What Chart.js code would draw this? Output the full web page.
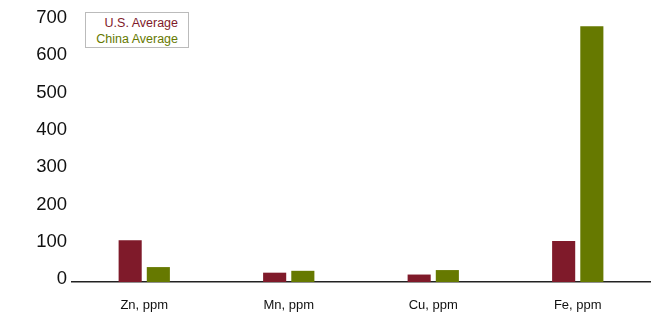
<!DOCTYPE html>
<html>
<head>
<meta charset="utf-8">
<script src="https://cdn.jsdelivr.net/npm/chart.js@4/dist/chart.umd.min.js"></script>
<style>
  html, body { margin: 0; padding: 0; background: #fff; }
  #wrap { position: relative; width: 657px; height: 313px; }
  #legendBox {
    position: absolute; left: 85px; top: 12px; width: 92px; height: 32px;
    border: 1px solid #bbb; background: #fff;
    font-family: 'Liberation Sans', Arial, sans-serif; font-size: 12.5px;
    line-height: 16px; text-align: right; padding: 2px 10px 0 0; box-sizing: content-box;
  }
  #legendBox div { white-space: nowrap; }
</style>
</head>
<body>
<div id="wrap">
  <canvas id="chart" width="657" height="313"></canvas>
  <div id="legendBox"></div>
</div>
<script>
const categories = ['Zn, ppm', 'Mn, ppm', 'Cu, ppm', 'Fe, ppm'];
const usAverage = [112, 25, 20, 110];
const chinaAverage = [40, 30, 32, 686];
const seriesNames = ['U.S. Average', 'China Average'];
const seriesColors = ['#7f1a2a', '#667900'];
const yTicks = [0, 100, 200, 300, 400, 500, 600, 700];

const legendBox = document.getElementById('legendBox');
seriesNames.forEach((name, i) => {
  const row = document.createElement('div');
  row.textContent = name;
  row.style.color = seriesColors[i];
  legendBox.appendChild(row);
});

const FONT = "'Liberation Sans', Arial, sans-serif";

new Chart(document.getElementById('chart').getContext('2d'), {
  type: 'bar',
  data: {
    labels: categories,
    datasets: [usAverage, chinaAverage].map((values, i) => ({
      label: seriesNames[i],
      data: values,
      backgroundColor: seriesColors[i],
      borderWidth: 0,
      barPercentage: 0.82,
      categoryPercentage: 0.39,
    })),
  },
  options: {
    responsive: false,
    animation: false,
    layout: { padding: { top: 21, right: 7, bottom: 0, left: 0 } },
    plugins: {
      legend: { display: false },
      tooltip: { enabled: false },
    },
    scales: {
      x: {
        grid: { display: false, drawTicks: false },
        border: { display: true, color: '#222', width: 1.5 },
        ticks: {
          color: '#111',
          padding: 16,
          font: { family: FONT, size: 13 },
        },
        afterFit(scale) { scale.height = 31; },
      },
      y: {
        min: yTicks[0],
        max: yTicks[yTicks.length - 1],
        grid: { display: false, drawTicks: false },
        border: { display: false },
        afterBuildTicks(scale) { scale.ticks = yTicks.map((v) => ({ value: v })); },
        ticks: {
          color: '#111',
          padding: 5,
          labelOffset: -3,
          font: { family: FONT, size: 18.5 },
        },
        afterFit(scale) { scale.width = 72; },
      },
    },
  },
});
</script>
</body>
</html>
